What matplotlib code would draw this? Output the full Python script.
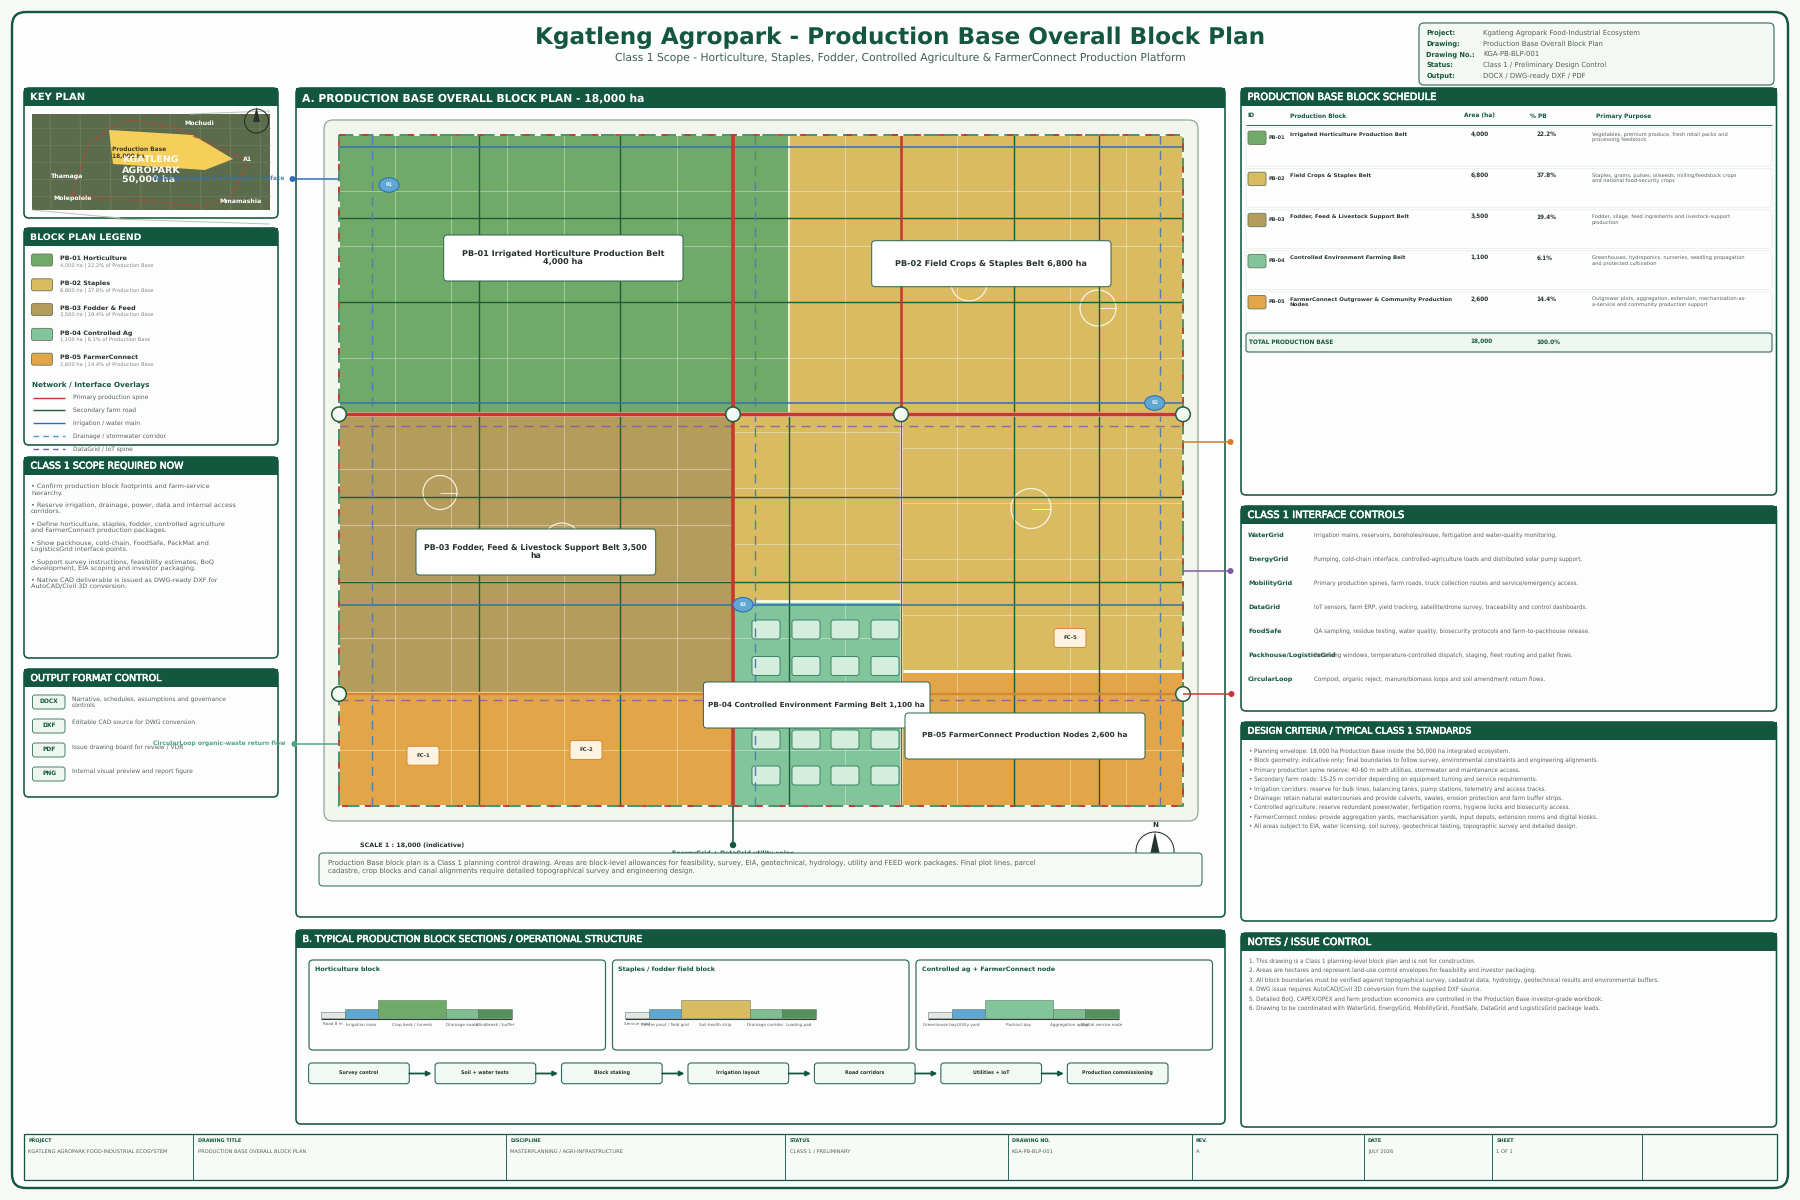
import matplotlib
matplotlib.use("Agg")
import matplotlib.pyplot as plt
import matplotlib.patheffects as pe
from matplotlib.patches import FancyBboxPatch, Rectangle, Circle, Ellipse, Polygon

plt.rcParams["text.hinting"] = "no_hinting"
plt.rcParams["text.hinting_factor"] = 8

# ---------- data ----------
block_ids = ["PB-01", "PB-02", "PB-03", "PB-04", "PB-05"]
block_short = ["Horticulture", "Staples", "Fodder & Feed", "Controlled Ag", "FarmerConnect"]
block_names = ["Irrigated Horticulture Production Belt", "Field Crops & Staples Belt",
               "Fodder, Feed & Livestock Support Belt", "Controlled Environment Farming Belt",
               "FarmerConnect Outgrower & Community Production\nNodes"]
block_area = [4000, 6800, 3500, 1100, 2600]
block_pct = [22.2, 37.8, 19.4, 6.1, 14.4]
block_colors = ["#70aa68", "#d9bc62", "#b49d5c", "#82c59a", "#e2a548"]
block_purpose = ["Vegetables, premium produce, fresh retail packs and\nprocessing feedstock",
                 "Staples, grains, pulses, oilseeds, milling/feedstock crops\nand national food-security crops",
                 "Fodder, silage, feed ingredients and livestock-support\nproduction",
                 "Greenhouses, hydroponics, nurseries, seedling propagation\nand protected cultivation",
                 "Outgrower plots, aggregation, extension, mechanisation-as-\na-service and community production support"]
overlay_labels = ["Primary production spine", "Secondary farm road", "Irrigation / water main",
                  "Drainage / stormwater corridor", "DataGrid / IoT spine"]
scope_items = ["• Confirm production block footprints and farm-service\nhierarchy.",
               "• Reserve irrigation, drainage, power, data and internal access\ncorridors.",
               "• Define horticulture, staples, fodder, controlled agriculture\nand FarmerConnect production packages.",
               "• Show packhouse, cold-chain, FoodSafe, PackMat and\nLogisticsGrid interface points.",
               "• Support survey instructions, feasibility estimates, BoQ\ndevelopment, EIA scoping and investor packaging.",
               "• Native CAD deliverable is issued as DWG-ready DXF for\nAutoCAD/Civil 3D conversion."]
output_tags = ["DOCX", "DXF", "PDF", "PNG"]
output_desc = ["Narrative, schedules, assumptions and governance\ncontrols", "Editable CAD source for DWG conversion",
               "Issue drawing board for review / VDR", "Internal visual preview and report figure"]
iface_names = ["WaterGrid", "EnergyGrid", "MobilityGrid", "DataGrid", "FoodSafe", "Packhouse/LogisticsGrid", "CircularLoop"]
iface_desc = ["Irrigation mains, reservoirs, boreholes/reuse, fertigation and water-quality monitoring.",
              "Pumping, cold-chain interface, controlled-agriculture loads and distributed solar pump support.",
              "Primary production spines, farm roads, truck collection routes and service/emergency access.",
              "IoT sensors, farm ERP, yield tracking, satellite/drone survey, traceability and control dashboards.",
              "QA sampling, residue testing, water quality, biosecurity protocols and farm-to-packhouse release.",
              "Receiving windows, temperature-controlled dispatch, staging, fleet routing and pallet flows.",
              "Compost, organic reject, manure/biomass loops and soil amendment return flows."]
criteria = ["• Planning envelope: 18,000 ha Production Base inside the 50,000 ha integrated ecosystem.",
            "• Block geometry: indicative only; final boundaries to follow survey, environmental constraints and engineering alignments.",
            "• Primary production spine reserve: 40-60 m with utilities, stormwater and maintenance access.",
            "• Secondary farm roads: 15-25 m corridor depending on equipment turning and service requirements.",
            "• Irrigation corridors: reserve for bulk lines, balancing tanks, pump stations, telemetry and access tracks.",
            "• Drainage: retain natural watercourses and provide culverts, swales, erosion protection and farm buffer strips.",
            "• Controlled agriculture: reserve redundant power/water, fertigation rooms, hygiene locks and biosecurity access.",
            "• FarmerConnect nodes: provide aggregation yards, mechanisation yards, input depots, extension rooms and digital kiosks.",
            "• All areas subject to EIA, water licensing, soil survey, geotechnical testing, topographic survey and detailed design."]
notes = ["1. This drawing is a Class 1 planning-level block plan and is not for construction.",
         "2. Areas are hectares and represent land-use control envelopes for feasibility and investor packaging.",
         "3. All block boundaries must be verified against topographical survey, cadastral data, hydrology, geotechnical results and environmental buffers.",
         "4. DWG issue requires AutoCAD/Civil 3D conversion from the supplied DXF source.",
         "5. Detailed BoQ, CAPEX/OPEX and farm production economics are controlled in the Production Base investor-grade workbook.",
         "6. Drawing to be coordinated with WaterGrid, EnergyGrid, MobilityGrid, FoodSafe, DataGrid and LogisticsGrid package leads."]
info_keys = ["Project:", "Drawing:", "Drawing No.:", "Status:", "Output:"]
info_vals = ["Kgatleng Agropark Food-Industrial Ecosystem", "Production Base Overall Block Plan", "KGA-PB-BLP-001",
             "Class 1 / Preliminary Design Control", "DOCX / DWG-ready DXF / PDF"]
tb_heads = ["PROJECT", "DRAWING TITLE", "DISCIPLINE", "STATUS", "DRAWING NO.", "REV.", "DATE", "SHEET", ""]
tb_vals = ["KGATLENG AGROPARK FOOD-INDUSTRIAL ECOSYSTEM", "PRODUCTION BASE OVERALL BLOCK PLAN",
           "MASTERPLANNING / AGRI-INFRASTRUCTURE", "CLASS 1 / PRELIMINARY", "KGA-PB-BLP-001", "A", "JULY 2026", "1 OF 1", ""]
tb_x = [24, 193, 506, 785, 1007.5, 1191.5, 1363.5, 1492, 1642, 1776]
card_titles = ["Horticulture block", "Staples / fodder field block", "Controlled ag + FarmerConnect node"]
card_labels = [["Road 8 m", "Irrigation main", "Crop beds / tunnels", "Drainage swale", "Windbreak / buffer"],
               ["Service road", "Centre pivot / field grid", "Soil-health strip", "Drainage corridor", "Loading pad"],
               ["Greenhouse bay", "Utility yard", "Packout bay", "Aggregation apron", "Digital service node"]]
card_main = ["#70aa68", "#d9bc62", "#82c59a"]
section_w = [24, 32.5, 68.5, 32, 34]
section_h = [6.5, 9, 18, 9, 9]
section_c = ["#e4e6e4", "#5fa8d3", None, "#7fbd92", "#53905c"]
steps = ["Survey control", "Soil + water tests", "Block staking", "Irrigation layout", "Road corridors", "Utilities + IoT", "Production commissioning"]

# ---------- colours ----------
DG = "#14573f"; INK = "#27332e"; GREY = "#55615b"
RED = "#c5392f"; ROAD = "#1f5c3c"; BLUE = "#2f6fb5"; DRAIN = "#4f7fae"; PURPLE = "#7a5aa6"

fig = plt.figure(figsize=(18, 12), dpi=100, facecolor="#f6f9f6")
ax = fig.add_axes([0, 0, 1, 1])
ax.set_xlim(0, 1800); ax.set_ylim(1200, 0); ax.axis("off")
_z = [1]
def Z():
    _z[0] += 1
    return _z[0]
def T(x, y, s, px=6, c=INK, w="normal", ha="left", va="center_baseline", **k):
    if va == "center_baseline":
        y = y - .8
    return ax.text(x, y, s, fontsize=px * .72, color=c, fontweight=w, ha=ha, va=va, zorder=Z(),
                   family="DejaVu Sans", **k)
def RB(x0, y0, x1, y1, r=4, fc="white", ec=DG, lw=1.0, **k):
    p = FancyBboxPatch((x0, y0), x1 - x0, y1 - y0, boxstyle=f"round,pad=0,rounding_size={r}",
                       fc=fc, ec=ec, lw=lw * .72, zorder=Z(), **k)
    ax.add_patch(p); return p
def R(x0, y0, x1, y1, fc, ec="none", lw=0, **k):
    p = Rectangle((x0, y0), x1 - x0, y1 - y0, fc=fc, ec=ec, lw=lw * .72, zorder=Z(), **k)
    ax.add_patch(p); return p
def L(xs, ys, c, lw=1.0, ls="-", **k):
    kw = dict(color=c, lw=lw * .72, zorder=Z(), solid_capstyle="butt", dash_capstyle="butt")
    kw.update(k)
    if ls != "-":
        kw["linestyle"] = ls
    return ax.plot(xs, ys, **kw)
def C(x, y, r, fc, ec="none", lw=0):
    p = Circle((x, y), r, fc=fc, ec=ec, lw=lw * .72, zorder=Z()); ax.add_patch(p)
def panel(x0, y0, x1, y1, title, width, hh=18, w="normal"):
    RB(x0, y0, x1, y1, r=5, fc="#fcfdfc", ec=DG, lw=1.6)
    R(x0, y0, x1, y0 + hh, DG)
    t = T(x0 + 6.5, y0 + hh / 2, title, px=10, c="white", w=w)
    if w == "normal":
        t.set_path_effects([pe.withStroke(linewidth=.4, foreground="white")])
    cur = t.get_window_extent(fig.canvas.get_renderer()).width
    t.set_fontsize(t.get_fontsize() * width / cur)

# frame / heading
RB(12, 12, 1788, 1188, r=14, fc="#fdfefd", ec=DG, lw=2.4)
T(900, 36, "Kgatleng Agropark - Production Base Overall Block Plan", px=23.15, c=DG, w="bold", ha="center")
T(900, 57, "Class 1 Scope - Horticulture, Staples, Fodder, Controlled Agriculture & FarmerConnect Production Platform",
  px=10.72, c="#3f5f52", ha="center")
RB(1419, 23, 1774, 85, r=5, fc="#f3f8f4", ec="#3d7562", lw=1.2)
for i, (k, v) in enumerate(zip(info_keys, info_vals)):
    T(1426.5, 33 + i * 10.7, k, px=6.6, c=DG, w="bold")
    T(1483, 33 + i * 10.7, v, px=6.9, c=GREY)

# left column
panel(24, 88, 278, 218, "KEY PLAN", 55, w="bold")
panel(24, 228, 278, 445, "BLOCK PLAN LEGEND", 111, w="bold")
panel(24, 457, 278, 658, "CLASS 1 SCOPE REQUIRED NOW", 153)
panel(24, 669, 278, 797, "OUTPUT FORMAT CONTROL", 131)

# key map
R(32, 114, 270, 210, "#5c6b4b")
for gx in [50, 80, 110, 140, 170, 200, 230, 260]:
    L([gx, gx + 1], [114, 210], "#76845f", .7)
for gy in [128, 145, 162, 179, 196]:
    L([32, 270], [gy, gy], "#6d7b57", .7)
L([190, 270], [114, 111], "#b9c4b4", 1.0)
L([32, 120], [210, 218], "#b9c4b4", 1.0)
L([115, 270], [219, 224], "#b9c4b4", 1.0)
ax.add_patch(Polygon([(109, 130), (193, 135), (233, 159), (205, 170), (113, 164)], fc="#f6cf5a", ec="none", zorder=Z()))
kx = [72, 88, 110, 130, 173, 240, 247, 230, 200, 133, 93, 72]
ky = [195, 145, 128, 120, 127, 157, 163, 200, 206, 200, 197, 195]
L(kx, ky, "#b8473a", 1.1, ls=(0, (5, 3)))
T(112, 149.5, "Production Base", px=5.9, c="#3a3a24", w="bold")
T(112, 157, "18,000 ha", px=5.9, c="#3a3a24", w="bold")
for yy, s in zip([159.5, 170, 180.5], ["KGATLENG", "AGROPARK", "50,000 ha"]):
    T(122, yy, s, px=9.5, c="white", w="bold", alpha=.95)
T(199, 123, "Mochudi", px=6.3, c="white", w="bold", ha="center")
T(248, 159.5, "A1", px=6.3, c="white", w="bold", ha="center")
T(67, 176.5, "Thamaga", px=6.3, c="white", w="bold", ha="center")
T(73, 198, "Molepolole", px=6.3, c="white", w="bold", ha="center")
T(241, 201.5, "Mmamashia", px=6.3, c="white", w="bold", ha="center")
ax.add_patch(Circle((256.5, 121), 12, fc="none", ec="#1d2a24", lw=.7, zorder=Z()))
ax.add_patch(Polygon([(256.5, 107), (260, 122), (253, 122)], fc="#26352d", ec="none", zorder=Z()))

# legend
for i in range(5):
    y = 254 + i * 24.8
    RB(31.5, y, 52.5, y + 12, r=2, fc=block_colors[i], ec="#6c7f60", lw=.9)
    T(60, y + 4.5, f"{block_ids[i]} {block_short[i]}", px=6.4, c=INK, w="bold")
    T(60, y + 12.5, f"{block_area[i]:,} ha | {block_pct[i]}% of Production Base", px=5.1, c="#7e8a84")
T(31.5, 384.5, "Network / Interface Overlays", px=7.25, c=DG, w="bold")
styles = [(RED, "-"), (ROAD, "-"), (BLUE, "-"), ("#4e9bc9", (0, (4, 3))), (PURPLE, (0, (4, 3)))]
for i, (lab, (col, st)) in enumerate(zip(overlay_labels, styles)):
    y = 397.5 + i * 12.9
    L([33, 65], [y, y], col, 1.4, ls=st)
    T(73, y - .3, lab, px=6.0, c=GREY)

# scope
for i, s in enumerate(scope_items):
    T(31, 489.3 + i * 18.9, s, px=6.45, c=GREY, linespacing=1.17, va="center")
# output
for i, (a, b) in enumerate(zip(output_tags, output_desc)):
    y = 695 + i * 24
    RB(32.5, y, 65, y + 14, r=2.5, fc="#eef6f0", ec="#3d7562", lw=.9)
    T(49, y + 6.5, a, px=5.9, c=DG, w="bold", ha="center")
    if "\n" in b:
        T(71.5, y + 7.3, b, px=6.0, c=GREY, linespacing=1.12, va="center")
    else:
        T(71.5, y + 3.8, b, px=6.0, c=GREY)

# panel A
panel(296, 88, 1225, 917, "A. PRODUCTION BASE OVERALL BLOCK PLAN - 18,000 ha", 341, hh=20, w="bold")
RB(324, 120, 1198, 821, r=9, fc="#f1f5ee", ec="#8da58f", lw=1.2)
X0, X1, Y0, Y1 = 339, 1183, 135, 806
R(X0, Y0, X1, Y1, block_colors[1], ec="white", lw=1)
R(X0, Y0, 788, 414, block_colors[0])
R(X0, 414, 733, 694, block_colors[2])
R(X0, 694, 733, Y1, block_colors[4])
R(733, 602, 901, Y1, block_colors[3])
R(901, 673, X1, Y1, block_colors[4])
# field grid
vgrid = [394.7, 451, 507, 563.7, 620, 676.7, 845, 957, 1014, 1070, 1126]
for gx in vgrid:
    L([gx, gx], [Y0, Y1], "white", 1, alpha=.36)
L([789, 789], [Y0, 414], "white", 1.6, alpha=.9)
L([901, 901], [414, Y1], "white", 2.6, alpha=.9)
for gy in [190.7, 246.4, 302, 358]:
    L([X0, X1], [gy, gy], "white", 1, alpha=.36)
for gy in [469.4, 525, 580.8, 637.7, 693, 749.7]:
    L([X0, 733], [gy, gy], "white", 1, alpha=.36)
for gy in [432, 488, 544, 637.7, 693, 749.7]:
    L([733, 901], [gy, gy], "white", 1, alpha=.36)
for gy in [447.7, 503.4, 559, 615, 749.7]:
    L([901, X1], [gy, gy], "white", 1, alpha=.36)
L([755, 900], [600.5, 600.5], "white", 2.6)
L([903, X1], [671, 671], "white", 3)
# pivots
for px_, py_, r_ in [(969, 283, 18), (1098, 308, 18), (440, 492.5, 17), (562, 541, 18), (1031, 508.5, 20)]:
    ax.add_patch(Circle((px_, py_), r_, fc="none", ec="white", lw=1.2 * .72, alpha=.85, zorder=Z()))
    L([px_, px_ + r_], [py_, py_], "white", .9, alpha=.85)
# greenhouses
for gy in [620, 656.5, 693, 730, 766]:
    for gx in [752, 792, 831, 871]:
        RB(gx, gy, gx + 28, gy + 19, r=2.5, fc="#d4eedd", ec="#357c62", lw=.9)
# roads
for gy in [218.3, 302.3, 497, 582]:
    L([X0, X1], [gy, gy], ROAD, 1.4)
for gx in [479, 619.7, 1014, 1098.5]:
    L([gx, gx], [Y0, Y1], ROAD, 1.4)
L([788.7, 788.7], [414, Y1], ROAD, 1.4)
# irrigation
for gy in [146.7, 403.3, 604.7]:
    L([X0, X1], [gy, gy], BLUE, 1.5)
# drainage
for gx in [372, 755, 1160]:
    L([gx, gx], [Y0, Y1], DRAIN, 1.4, ls=(0, (6.5, 4.5)))
# data
for gy in [425.7, 699.7]:
    L([X0, X1], [gy, gy], PURPLE, 1.4, ls=(0, (6.5, 4.5)), alpha=.8)
# primary spine
L([733, 733], [Y0, Y1], RED, 3.6)
L([901, 901], [Y0, 414], RED, 2.6)
L([901, 901], [414, Y1], RED, 1.3)
L([X0, X1], [414.3, 414.3], "#e9a79a", 4.6)
L([X0, X1], [414.3, 414.3], RED, 3.2)
L([X0, 733], [692.2, 692.2], "#f0cf9a", 1.4)
L([X0, X1], [694.3, 694.3], "#d58733", 2.4)
L([733, 901], [694.3, 694.3], "#c98a45", 2.4)
# boundary
bx = [X0, X1, X1, X0, X0]; by = [Y0, Y0, Y1, Y1, Y0]
L(bx, by, "white", 1.8)
L(bx, by, "#3e8a5e", 1.8, ls=(0, (8, 3.2)))
L(bx, by, RED, 1.8, ls=(0, (3.4, 9.4)))
# leaders
L([339, 293], [179, 179], BLUE, 1.5); C(292.5, 179, 3, BLUE)
T(284, 178.5, "WaterGrid intake & treatment interface", px=5.9, c=BLUE, w="bold", ha="right", alpha=.85)
L([339, 295], [744, 744], "#4fa387", 1.5); C(294.5, 744, 3, "#4fa387")
T(286, 743.5, "CircularLoop organic-waste return flow", px=6.0, c="#4fa387", w="bold", ha="right")
L([X1, 1230], [442, 442], "#d9772b", 1.5); C(1230.5, 442, 3, "#d9772b")
L([X1, 1230], [571, 571], PURPLE, 1.5); C(1230.5, 571, 3, PURPLE)
# nodes
for nx, ny in [(X0, 414.3), (733, 414.3), (901, 414.3), (X1, 414.3), (X0, 694), (X1, 694)]:
    C(nx, ny, 7.3, "#f3faf4", ROAD, 1.5)
L([X1, 1231], [694, 694], RED, 1.5); C(1231.5, 694, 3, RED)
# reservoirs
for (rx, ry), lab in zip([(389, 185), (1154.7, 403), (743, 604.7)], ["R1", "R2", "R3"]):
    ax.add_patch(Ellipse((rx, ry), 20, 14.5, fc="#5fa8d3", ec=BLUE, lw=1.1 * .72, zorder=Z()))
    T(rx, ry, lab, px=4.7, c="#eaf4fa", w="bold", ha="center")
# FC tags
for fx, fy, lab in [(423, 755.7, "FC-1"), (586, 750, "FC-2"), (1070, 638, "FC-5")]:
    RB(fx - 16, fy - 9.5, fx + 16, fy + 9.5, r=2.5, fc="#fdf3e0", ec="#d9883a", lw=1)
    T(fx, fy, lab, px=5.4, c=INK, w="bold", ha="center")
# labels
labels = [(443.7, 235, 683, 281, f"{block_ids[0]} {block_names[0]}\n{block_area[0]:,} ha", 8.15),
          (871.7, 240.7, 1111, 286.7, f"{block_ids[1]} {block_names[1]} {block_area[1]:,} ha", 8.2),
          (416, 529, 655.7, 575, f"{block_ids[2]} Fodder, Feed & Livestock Support Belt {block_area[2]:,}\nha", 7.8),
          (703.4, 682, 930, 728, f"{block_ids[3]} {block_names[3]} {block_area[3]:,} ha", 7.3),
          (905, 713, 1145, 759, f"{block_ids[4]} FarmerConnect Production Nodes {block_area[4]:,} ha", 7.36)]
for x0, y0, x1, y1, s, fs in labels:
    RB(x0, y0, x1, y1, r=3.5, fc="white", ec="#2c6650", lw=1)
    T((x0 + x1) / 2, (y0 + y1) / 2 - .5, s, px=fs, c=INK, w="bold", ha="center", linespacing=1.15, va="center")
# below plan
T(360, 845.5, "SCALE 1 : 18,000 (indicative)", px=6.4, c=INK, w="bold")
L([733, 733], [806, 845], DG, 1.6); C(733, 845, 3.2, DG)
T(733, 853.5, "EnergyGrid + DataGrid utility spine", px=6.1, c=DG, w="bold", ha="center")
ax.add_patch(Circle((1155, 851), 19, fc="white", ec="#1d2a24", lw=1.0 * .72, zorder=Z()))
ax.add_patch(Polygon([(1155, 832), (1160, 855), (1150, 855)], fc="#26352d", ec="none", zorder=Z()))
T(1155, 825.5, "N", px=7.2, c=INK, w="bold", ha="center")
RB(319, 853, 1202, 886, r=4, fc="#f6faf6", ec="#3d7562", lw=1.1)
T(327.7, 866.5, "Production Base block plan is a Class 1 planning control drawing. Areas are block-level allowances for feasibility, survey, EIA, geotechnical, hydrology, utility and FEED work packages. Final plot lines, parcel\ncadastre, crop blocks and canal alignments require detailed topographical survey and engineering design.",
  px=6.85, c=GREY, linespacing=1.13, va="center")

# panel B
panel(296, 930, 1225, 1124, "B. TYPICAL PRODUCTION BLOCK SECTIONS / OPERATIONAL STRUCTURE", 340)
for j, cx in enumerate([309, 612.5, 916]):
    RB(cx, 960, cx + 296.5, 1050, r=4, fc="#fcfdfc", ec="#2f6b56", lw=1.2)
    T(cx + 6, 969, card_titles[j], px=6.35, c=DG, w="bold")
    x = cx + 12
    for w_, h_, col, lab in zip(section_w, section_h, section_c, card_labels[j]):
        R(x, 1018.3 - h_, x + w_, 1018.3, col or card_main[j], ec="#55705f", lw=.5)
        T(x + w_ / 2, 1024.5, lab, px=4.15, c=GREY, ha="center")
        x += w_
    L([cx + 12, x], [1018.5, 1018.5], "#2d3e35", 1.1)
for i, s in enumerate(steps):
    x0 = 308.6 + i * 126.45
    RB(x0, 1063, x0 + 100.7, 1083.7, r=3, fc="#f2f8f3", ec="#2f6b56", lw=1.1)
    T(x0 + 50.3, 1072.5, s, px=4.8, c=INK, w="bold", ha="center")
    if i < 6:
        ax.annotate("", xy=(x0 + 123, 1073.5), xytext=(x0 + 100.7, 1073.5), zorder=Z(),
                    arrowprops=dict(arrowstyle="-|>", color=DG, lw=1.3, mutation_scale=7, shrinkA=0, shrinkB=0))

# right column
panel(1241, 88, 1776.5, 495, "PRODUCTION BASE BLOCK SCHEDULE", 189)
for x, s in zip([1247, 1290, 1463.5, 1530, 1596.5], ["ID", "Production Block", "Area (ha)", "% PB", "Primary Purpose"]):
    T(x, 116, s, px=5.9, c=DG, w="bold")
L([1246, 1772], [124.5, 124.5], "#2f6b56", 1.0)
for i in range(5):
    y = 127.5 + i * 41.1
    RB(1246, y, 1772, y + 38.7, r=2, fc="#fdfefd", ec="#e7efe9", lw=.9)
    RB(1248, y + 3.6, 1266, y + 17, r=2, fc=block_colors[i], ec="#6c7f60", lw=.9)
    T(1269, y + 10, block_ids[i], px=5.0, c=INK, w="bold")
    if "\n" in block_names[i]:
        T(1290, y + 10.5, block_names[i], px=5.5, c=INK, w="bold", linespacing=1.1, va="center")
    else:
        T(1290, y + 7.3, block_names[i], px=5.5, c=INK, w="bold")
    T(1479.5, y + 7.3, f"{block_area[i]:,}", px=5.8, c=INK, w="bold", ha="center")
    T(1536.5, y + 7.3, f"{block_pct[i]}%", px=5.8, c=INK, w="bold")
    T(1592, y + 9.8, block_purpose[i], px=5.1, c=GREY, linespacing=1.13, va="center")
RB(1246, 333, 1772, 352, r=2.5, fc="#edf6f0", ec="#2f6b56", lw=1.1)
T(1249, 342, "TOTAL PRODUCTION BASE", px=5.8, c=DG, w="bold")
T(1470, 342, f"{sum(block_area):,}", px=5.8, c=DG, w="bold")
T(1536.5, 342, "100.0%", px=5.8, c=DG, w="bold")

panel(1241, 506, 1776.5, 711, "CLASS 1 INTERFACE CONTROLS", 157)
for i, (a, b) in enumerate(zip(iface_names, iface_desc)):
    y = 535 + i * 24
    T(1248, y, a, px=6.4, c=DG, w="bold")
    T(1313.6, y, b, px=5.62, c=GREY)

panel(1241, 722, 1776.5, 921, "DESIGN CRITERIA / TYPICAL CLASS 1 STANDARDS", 224)
for i, s in enumerate(criteria):
    T(1249, 751.3 + i * 9.4, s, px=5.6, c=GREY)

panel(1241, 933, 1776.5, 1127, "NOTES / ISSUE CONTROL", 123.6)
for i, s in enumerate(notes):
    T(1249, 961.3 + i * 9.4, s, px=5.63, c=GREY)

# title block
R(24, 1134, 1776.5, 1180, "#f7fbf8", ec=DG, lw=1.3)
for x in tb_x[1:-1]:
    L([x, x], [1134, 1180], "#2f6b56", 1.0)
for x, a, b in zip(tb_x, tb_heads, tb_vals):
    T(x + 4.5, 1141, a, px=4.9, c=DG, w="bold")
    T(x + 4.5, 1152, b, px=5.1, c=GREY)

fig.savefig("out.png", dpi=100, facecolor=fig.get_facecolor())
